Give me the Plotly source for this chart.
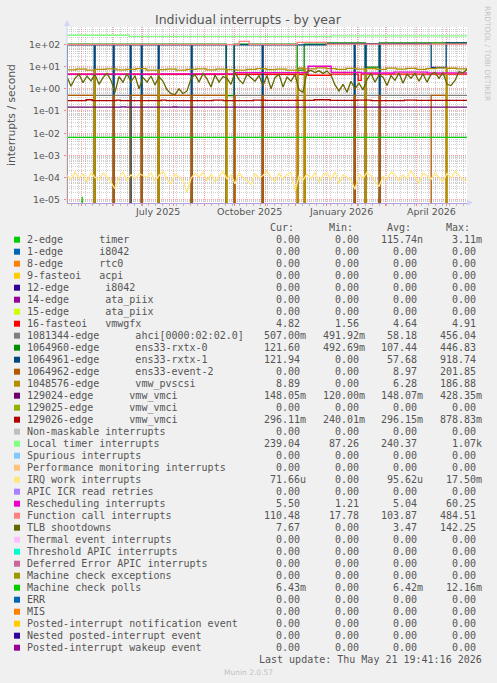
import plotly.graph_objects as go
import pandas as pd

# ---------------- data ----------------
START = "2025-04-16 19:41:16"
END = "2026-05-21 19:41:16"

Y_TICK_EXP = [2, 1, 0, -1, -2, -3, -4, -5]
X_LABELS = ["July 2025", "October 2025", "January 2026", "April 2026"]
X_LABEL_AT = ["2025-07-16", "2025-10-16", "2026-01-16", "2026-04-16"]

TIMER = [("2025-04-16 19:41", 0), ("2025-05-01", 0), ("2025-05-02", 1.3e-5), ("2025-05-03", 0),
         ("2025-08-18", 0), ("2025-08-19", 1.2e-5), ("2025-08-20", 0),
         ("2025-09-22", 0), ("2025-09-23", 1.4e-5), ("2025-09-24", 0),
         ("2026-02-22", 0), ("2026-02-23", 1.5e-5), ("2026-02-24", 0), (END, 0)]
VMWGFX = [("2025-04-16 19:41", 4.55), ("2025-12-14", 4.1), ("2026-01-06", 4.6),
          ("2026-02-02", 2.4), ("2026-02-05", 4.6), (END, 4.82)]
AHCI = [("2025-04-16 19:41", 0.5), (END, 0.507)]
RXTX0 = [("2025-04-16 19:41", 104), ("2025-09-23", 0.49), ("2025-10-01", 104), ("2025-12-03", 7.0),
         ("2025-12-10", 104), ("2026-01-01", 118), ("2026-02-09", 9.5), ("2026-02-23", 118), (END, 121.6)]
RXTX1 = [("2025-04-16 19:41", 0), ("2025-04-17", 97), ("2025-05-14", 0), ("2025-05-15", 97),
         ("2025-06-02", 0), ("2025-06-03", 97), ("2025-06-19", 0), ("2025-06-20", 97),
         ("2025-06-30", 0), ("2025-07-01", 97), ("2025-07-17", 0), ("2025-07-18", 97),
         ("2025-08-19", 0), ("2025-08-20", 97), ("2025-09-23", 0), ("2025-10-01", 97),
         ("2025-10-29", 0), ("2025-10-30", 97), ("2026-01-01", 112), ("2026-01-29", 0),
         ("2026-01-30", 112), ("2026-02-09", 0), ("2026-02-10", 112), ("2026-02-23", 0),
         ("2026-02-24", 112), ("2026-04-16", 9.2), ("2026-05-01", 121), (END, 121.94)]
EVENT2 = [("2025-04-16 19:41", 0), ("2025-04-17", 0.5), ("2025-05-14", 0), ("2025-06-02", 0.5),
          ("2025-06-03", 0), ("2025-06-19", 0.5), ("2025-06-30", 0), ("2025-07-01", 0.5),
          ("2025-07-17", 0), ("2025-07-18", 0.5), ("2025-08-19", 0), ("2025-08-20", 0.5),
          ("2025-09-23", 0), ("2025-10-01", 0.5), ("2025-10-02", 0), ("2025-10-29", 0.5),
          ("2025-10-30", 0), ("2025-12-03", 0.5), ("2025-12-04", 0), ("2025-12-10", 0.5),
          ("2025-12-11", 0), ("2026-01-29", 0.5), ("2026-01-30", 0), ("2026-02-09", 0.5),
          ("2026-02-10", 0), ("2026-02-23", 0.5), ("2026-02-24", 0), ("2026-04-16", 0.5),
          ("2026-05-01", 0), (END, 0)]
PVSCSI = [("2025-04-16 19:41", 7.2), ("2025-04-26", 7.8), ("2025-05-06", 7.0), ("2025-05-14", 0),
          ("2025-05-15", 7.5), ("2025-05-26", 8.0), ("2025-06-05", 7.2), ("2025-06-15", 7.6),
          ("2025-06-25", 8.2), ("2025-07-05", 7.0), ("2025-07-17", 0), ("2025-07-18", 7.4),
          ("2025-07-25", 7.8), ("2025-08-04", 7.0), ("2025-08-14", 7.5), ("2025-08-24", 8.0),
          ("2025-09-03", 7.2), ("2025-09-13", 7.8), ("2025-09-23", 0), ("2025-09-24", 7.4),
          ("2025-10-03", 7.0), ("2025-10-13", 7.6), ("2025-10-23", 8.2), ("2025-11-02", 7.4),
          ("2025-11-12", 7.8), ("2025-11-22", 7.0), ("2025-12-03", 0), ("2025-12-04", 8.5),
          ("2025-12-10", 0), ("2025-12-11", 8.0), ("2025-12-22", 8.8), ("2026-01-01", 8.2),
          ("2026-01-11", 7.6), ("2026-01-21", 8.4), ("2026-01-31", 7.8), ("2026-02-09", 0),
          ("2026-02-10", 8.2), ("2026-02-20", 7.5), ("2026-03-02", 8.6), ("2026-03-12", 7.8),
          ("2026-03-22", 8.4), ("2026-04-01", 7.6), ("2026-04-11", 8.2), ("2026-04-21", 8.8),
          ("2026-05-01", 0), ("2026-05-02", 8.5), ("2026-05-11", 8.0), (END, 8.89)]
VMCI_129024 = [("2025-04-16 19:41", 0.148), ("2025-06-10", 0.152), ("2025-06-14", 0.147),
               ("2025-08-01", 0.150), ("2025-08-05", 0.147), ("2025-11-20", 0.149),
               ("2026-01-10", 0.148), (END, 0.148)]
VMCI_129026 = [("2025-04-16 19:41", 0.29), ("2025-05-06", 0.32), ("2025-05-12", 0.29),
               ("2025-06-05", 0.31), ("2025-06-09", 0.29), ("2025-07-20", 0.31),
               ("2025-07-25", 0.295), ("2025-09-10", 0.31), ("2025-09-20", 0.295),
               ("2025-10-20", 0.31), ("2025-11-01", 0.30), ("2025-12-20", 0.32),
               ("2026-01-05", 0.30), ("2026-02-01", 0.31), ("2026-02-15", 0.295),
               ("2026-03-20", 0.31), ("2026-04-01", 0.30), (END, 0.296)]
LOCAL_TIMER = [("2025-04-16 19:41", 265), ("2025-06-18", 237), ("2026-01-06", 248), (END, 239.04)]
RESCHED = [("2025-04-16 19:41", 4.6), ("2025-07-20", 4.7), ("2025-10-01", 5.4), ("2025-12-14", 10.5),
           ("2026-01-06", 5.6), ("2026-02-05", 5.2), ("2026-03-10", 5.7), ("2026-04-12", 5.3), (END, 5.5)]
FUNC_CALL = [("2025-04-16 19:41", 100), ("2025-10-06", 140), ("2025-10-16", 100),
             ("2025-12-03", 125), ("2026-01-01", 106), (END, 110.48)]
MC_POLLS = [("2025-04-16 19:41", 0.0064), (END, 0.00643)]

# sampled every 4 days from START
TLB = [3.5, 1.3, 3.0, 4.6, 1.9, 3.8, 2.3, 4.5, 1.6, 3.2,
       5.0, 2.4, 0.7, 3.6, 2.0, 4.8, 2.1, 3.9, 1.0, 3.3,
       2.0, 3.8, 1.5, 3.5, 2.2, 0.9, 0.6, 0.55, 1.0, 0.6,
       0.8, 2.8, 4.5, 2.0, 5.0, 2.8, 1.2, 4.2, 2.0, 3.6,
       3.0, 1.6, 5.5, 2.6, 1.7, 4.6, 3.2, 2.2, 4.0, 1.4,
       4.0, 1.0, 3.2, 4.6, 1.2, 3.4, 2.2, 4.5, 0.9, 0.7,
       6.0, 6.8, 5.4, 6.5, 5.0, 6.3, 4.2, 1.5, 0.8, 1.6,
       0.7, 2.2, 1.0, 1.8, 0.9, 2.6, 5.0, 2.0, 4.2, 3.4,
       1.4, 4.0, 2.4, 5.2, 1.8, 4.6, 3.0, 5.0, 2.2, 4.8,
       2.0, 4.5, 5.6, 3.0, 5.4, 1.6, 1.4, 2.4, 6.0, 5.2, 7.67]
IRQ_WORK_U = [120, 80, 170, 90, 140, 60, 160, 100, 75, 150,
              110, 55, 30, 95, 175, 70, 130, 85, 145, 120,
              95, 160, 65, 120, 185, 80, 50, 140, 100, 75,
              20, 90, 150, 105, 165, 70, 135, 60, 110, 180,
              85, 130, 50, 160, 95, 75, 45, 150, 90, 120,
              190, 95, 65, 150, 80, 140, 160, 25, 110, 75,
              140, 85, 165, 60, 120, 155, 80, 175, 50, 130,
              100, 75, 28, 145, 90, 165, 115, 65, 38, 110,
              80, 170, 130, 70, 125, 90, 195, 100, 55, 150,
              115, 80, 160, 95, 65, 145, 90, 180, 120, 80, 72]

LEG_NAMES = [
    "2-edge      timer", "1-edge      i8042", "8-edge      rtc0", "9-fasteoi   acpi",
    "12-edge      i8042", "14-edge      ata_piix", "15-edge      ata_piix", "16-fasteoi   vmwgfx",
    "1081344-edge      ahci[0000:02:02.0]", "1064960-edge      ens33-rxtx-0",
    "1064961-edge      ens33-rxtx-1", "1064962-edge      ens33-event-2",
    "1048576-edge      vmw_pvscsi", "129024-edge      vmw_vmci", "129025-edge      vmw_vmci",
    "129026-edge      vmw_vmci", "Non-maskable interrupts", "Local timer interrupts",
    "Spurious interrupts", "Performance monitoring interrupts", "IRQ work interrupts",
    "APIC ICR read retries", "Rescheduling interrupts", "Function call interrupts",
    "TLB shootdowns", "Thermal event interrupts", "Threshold APIC interrupts",
    "Deferred Error APIC interrupts", "Machine check exceptions", "Machine check polls",
    "ERR", "MIS", "Posted-interrupt notification event", "Nested posted-interrupt event",
    "Posted-interrupt wakeup event"]
LEG_COLORS = ["#00CC00", "#0066B3", "#FF8000", "#FFCC00", "#330099", "#990099", "#CCFF00",
              "#FF0000", "#808080", "#008F00", "#00487D", "#B35A00", "#B38F00", "#6B006B",
              "#8FB300", "#B30000", "#BEBEBE", "#80FF80", "#80C9FF", "#FFC080", "#FFE680",
              "#AA80FF", "#EE00CC", "#FF8080", "#666600", "#FFBFFF", "#00FFCC", "#CC6699",
              "#999900", "#00CC00", "#0066B3", "#FF8000", "#FFCC00", "#330099", "#990099"]
Z = "0.00"
CUR = [Z, Z, Z, Z, Z, Z, Z, "4.82", "507.00m", "121.60", "121.94", Z, "8.89", "148.05m", Z,
       "296.11m", Z, "239.04", Z, Z, "71.66u", Z, "5.50", "110.48", "7.67", Z, Z, Z, Z,
       "6.43m", Z, Z, Z, Z, Z]
MIN = [Z, Z, Z, Z, Z, Z, Z, "1.56", "491.92m", "492.69m", Z, Z, Z, "120.00m", Z,
       "240.01m", Z, "87.26", Z, Z, Z, Z, "1.21", "17.78", Z, Z, Z, Z, Z,
       Z, Z, Z, Z, Z, Z]
AVG = ["115.74n", Z, Z, Z, Z, Z, Z, "4.64", "58.18", "107.44", "57.68", "8.97", "6.28",
       "148.07m", Z, "296.15m", Z, "240.37", Z, Z, "95.62u", Z, "5.04", "103.87", "3.47",
       Z, Z, Z, Z, "6.42m", Z, Z, Z, Z, Z]
MAX = ["3.11m", Z, Z, Z, Z, Z, Z, "4.91", "456.04", "446.83", "918.74", "201.85", "186.88",
       "428.35m", Z, "878.83m", Z, "1.07k", Z, Z, "17.50m", Z, "60.25", "484.51", "142.25",
       Z, Z, Z, Z, "12.16m", Z, Z, Z, Z, Z]
HEADERS = ["Cur:", "Min:", "Avg:", "Max:"]

# ---------------- layout helpers ----------------
W, H = 497, 683
PL, PR, PT, PB = 67, 467, 27, 203
FLOOR = 1e-7


def px_x(px):
    return (px - PL) / (PR - PL)


def px_y(py):
    return (PB - py) / (PB - PT)


fig = go.Figure()


def add_series(series, color, shape="hv", width=1.3):
    xs = [d for d, v in series]
    ys = [v if v > 0 else FLOOR for d, v in series]
    fig.add_trace(go.Scatter(x=xs, y=ys, mode="lines", line=dict(color=color, width=width, shape=shape),
                             hoverinfo="skip", showlegend=False))


def add_regular(values, color, scale=1.0, width=1.3):
    xs = pd.date_range(START, periods=len(values), freq="4D")
    ys = [v * scale if v > 0 else FLOOR for v in values]
    fig.add_trace(go.Scatter(x=xs, y=ys, mode="lines", line=dict(color=color, width=width),
                             hoverinfo="skip", showlegend=False))


add_series(TIMER, "#00CC00", shape="linear")
add_series(VMWGFX, "#FF0000")
add_series(AHCI, "#808080")
add_series(RXTX0, "#008F00")
add_series(RXTX1, "#00487D")
add_series(EVENT2, "#B35A00")
add_series(PVSCSI, "#B38F00")
add_series(VMCI_129024, "#6B006B")
add_series(VMCI_129026, "#B30000")
add_series(LOCAL_TIMER, "#80FF80")
add_regular(IRQ_WORK_U, "#FFE680", scale=1e-6)
add_series(RESCHED, "#EE00CC")
add_series(FUNC_CALL, "#FF8080")
add_regular(TLB, "#666600")
add_series(MC_POLLS, "#00CC00")

TXT = "#555555"
MONO = "DejaVu Sans Mono"
SANS = "DejaVu Sans"
ann = []


def a(x, y, text, size=10, font=MONO, xanchor="left", color=TXT, xref="paper", yref="paper", angle=0):
    ann.append(dict(x=x, y=y, xref=xref, yref=yref, text=text, showarrow=False, xanchor=xanchor,
                    yanchor="middle", font=dict(family=font, size=size, color=color), borderpad=0,
                    textangle=angle))


# title / axis titles / watermark
a(px_x(248), px_y(19), "Individual interrupts - by year", size=12.5, font=SANS, xanchor="center")
a(px_x(11), px_y(115), "interrupts / second", size=10.8, font=SANS, xanchor="center", angle=-90)
a(px_x(488), px_y(53), "RRDTOOL / TOBI OETIKER", size=7.4, font=SANS, xanchor="center", color="#C4C4C4", angle=90)
a(px_x(248), px_y(672), "Munin 2.0.57", size=7.5, font=SANS, xanchor="center", color="#C0C0C0")

# y tick labels
for k in Y_TICK_EXP:
    a(px_x(61), k, f"1e{k:+03d}", size=9.3, font=SANS, xanchor="right", yref="y")
# x labels
for lab, d in zip(X_LABELS, X_LABEL_AT):
    a(d, px_y(212), lab, size=9.5, font=SANS, xanchor="center", xref="x")

# legend
NB = "\u00a0"
COL_EDGE = [301, 359.7, 417.7, 476.7]
CHAR = 5.97
shapes = []
for j, h in enumerate(HEADERS):
    a(px_x(COL_EDGE[j] - CHAR), px_y(227.3), h, xanchor="right")
for i, name in enumerate(LEG_NAMES):
    yc = 239.7 + 12 * i
    shapes.append(dict(type="rect", xref="paper", yref="paper", x0=px_x(14), x1=px_x(20),
                       y0=px_y(yc + 3), y1=px_y(yc - 3), fillcolor=LEG_COLORS[i], line=dict(width=0)))
    a(px_x(26.3), px_y(yc), name.replace(" ", NB))
    for j, col in enumerate([CUR, MIN, AVG, MAX]):
        s = col[i]
        edge = COL_EDGE[j] + (CHAR if s[-1].isalpha() else 0)
        a(px_x(edge), px_y(yc), s, xanchor="right")
a(px_x(482.7), px_y(659.5), "Last update: Thu May 21 19:41:16 2026".replace(" ", NB), xanchor="right")

# axis arrows / extension
AX = "#CFD6F8"
shapes.append(dict(type="line", xref="paper", yref="paper", x0=px_x(67), x1=px_x(67), y0=px_y(203), y1=px_y(22),
                   line=dict(color=AX, width=1)))
shapes.append(dict(type="path", xref="paper", yref="paper",
                   path=f"M {px_x(64)},{px_y(26)} L {px_x(70)},{px_y(26)} L {px_x(67)},{px_y(20)} Z",
                   fillcolor=AX, line=dict(width=0)))
shapes.append(dict(type="path", xref="paper", yref="paper",
                   path=f"M {px_x(467)},{px_y(199.7)} L {px_x(467)},{px_y(205.7)} L {px_x(473)},{px_y(202.7)} Z",
                   fillcolor=AX, line=dict(width=0)))

fig.update_layout(
    width=W, height=H, autosize=False,
    margin=dict(l=PL, r=W - PR, t=PT, b=H - PB, pad=0),
    paper_bgcolor="#F0F0F0", plot_bgcolor="#FFFFFF",
    showlegend=False, annotations=ann, shapes=shapes,
    xaxis=dict(type="date", range=[START, END], showticklabels=False,
               tick0="2025-05-01", dtick="M1", ticks="outside", ticklen=2, tickcolor="rgba(255,80,80,0.7)",
               showgrid=True, gridcolor="rgba(255,90,90,0.55)", griddash="1px,1px", gridwidth=1,
               minor=dict(tick0="2025-04-21", dtick=7 * 86400000, showgrid=True, ticks="outside", ticklen=2,
                          tickcolor="rgba(150,150,150,0.6)",
                          gridcolor="rgba(150,150,150,0.45)", griddash="1px,1px", gridwidth=1),
               showline=True, linecolor="#B59CDB", linewidth=1, zeroline=False, fixedrange=True),
    yaxis=dict(type="log", range=[-5.167, 2.797], showticklabels=False, tick0=0, dtick=1,
               ticks="outside", ticklen=2, tickcolor="rgba(255,80,80,0.7)",
               showgrid=True, gridcolor="rgba(255,90,90,0.55)", griddash="1px,1px", gridwidth=1,
               minor=dict(dtick="D1", showgrid=True, gridcolor="rgba(150,150,150,0.45)",
                          griddash="1px,1px", gridwidth=1),
               showline=False, zeroline=False, fixedrange=True),
)

fig.write_html("out.html", config={"displayModeBar": False, "staticPlot": True},
               post_script="document.body.style.margin='0px';")
